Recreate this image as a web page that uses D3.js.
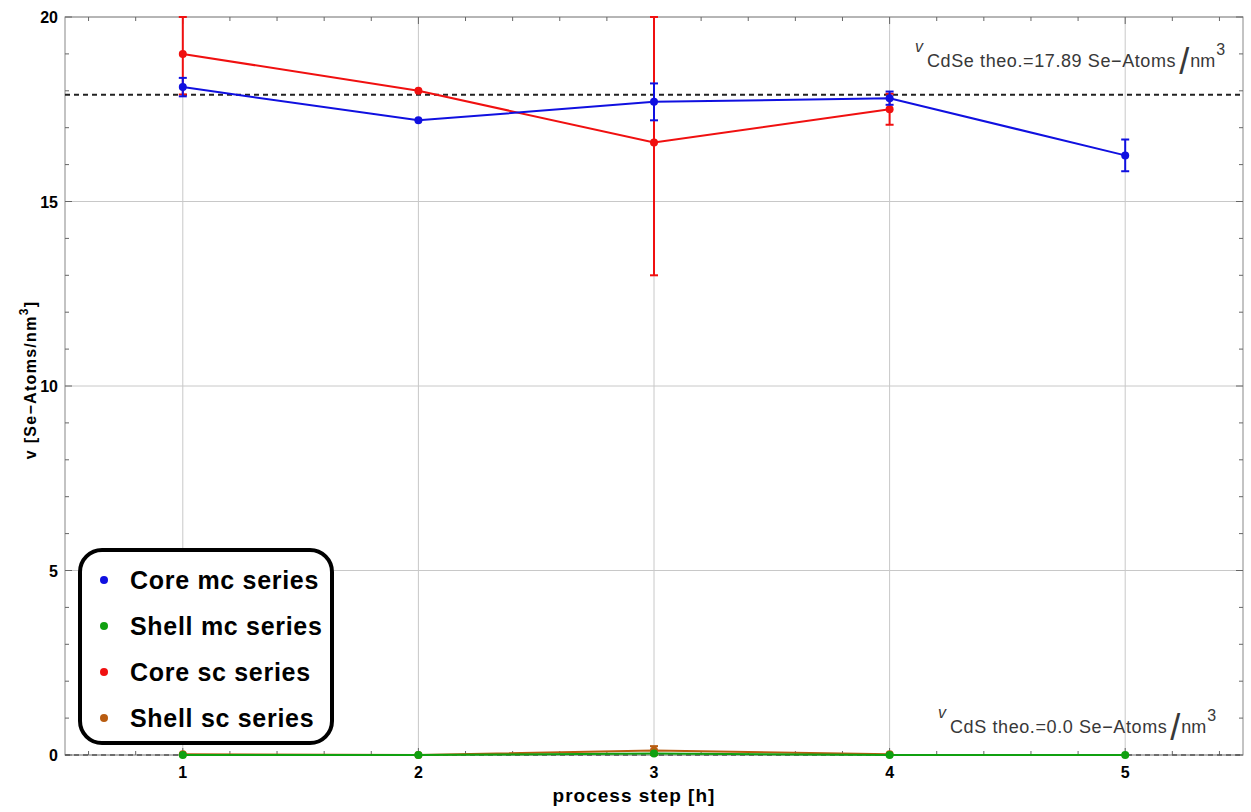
<!DOCTYPE html>
<html lang="en">
<head>
    <meta charset="UTF-8">
    <title>Se density per process step</title>
    <style>
        body { margin: 0; background: #fff; }
        text { font-family: 'Liberation Sans', Arial, sans-serif; fill: #000; }
        .grid line { stroke: #c8c8c8; stroke-width: 1px; }
        .frame { fill: none; stroke: #888; stroke-width: 1px; }
        .tick-label { font-size: 16px; font-weight: bold; }
        .axis-title { font-weight: bold; }
        .note text { fill: #383838; }
    </style>
</head>
<body>
<script src="https://d3js.org/d3.v7.min.js"></script>
<script>

    const width = 1251;
    const height = 812;
    const margin = {left: 65, right: 8, top: 17, bottom: 57};

    // data
    const steps = [1, 2, 3, 4, 5];
    const coreMc = [18.1, 17.2, 17.7, 17.8, 16.25];
    const coreMcErr = [0.25, 0, 0.5, 0.18, 0.43];
    const shellMc = [0.0, 0.0, 0.04, 0.0, 0.0];
    const shellMcErr = [0, 0, 0, 0, 0];
    const coreSc = [19.0, 18.0, 16.6, 17.5];
    const coreScErr = [1.1, 0, 3.6, 0.42];
    const shellSc = [0.02, 0.0, 0.12, 0.02];
    const shellScErr = [0, 0, 0.12, 0];

    const seriesNames = ['Core mc series', 'Shell mc series', 'Core sc series', 'Shell sc series'];
    const seriesColours = ['#1010e0', '#10a010', '#f01010', '#b85c10'];

    const theoCdSe = 17.89;
    const theoCdS = 0.0;

    const xTicks = [1, 2, 3, 4, 5];
    const yTicks = [0, 5, 10, 15, 20];

    const series = [
        {values: coreMc, err: coreMcErr, colour: seriesColours[0]},
        {values: shellMc, err: shellMcErr, colour: seriesColours[1]},
        {values: coreSc, err: coreScErr, colour: seriesColours[2]},
        {values: shellSc, err: shellScErr, colour: seriesColours[3]}
    ];
    // draw order: shell sc under shell mc so the green dots stay visible
    const drawOrder = [3, 1, 2, 0];

    let svg = d3.select('body').append('svg')
        .attr('width', width)
        .attr('height', height);

    const x = d3.scaleLinear().domain([0.5, 5.5]).range([margin.left, width - margin.right]);
    const y = d3.scaleLinear().domain([0, 20]).range([height - margin.bottom, margin.top]);

    // grid
    let grid = svg.append('g').classed('grid', true);
    grid.selectAll('.gx').data(xTicks).enter().append('line')
        .attr('x1', d => x(d)).attr('x2', d => x(d))
        .attr('y1', y(0)).attr('y2', y(20));
    grid.selectAll('.gy').data(yTicks).enter().append('line')
        .attr('x1', x(0.5)).attr('x2', x(5.5))
        .attr('y1', d => y(d)).attr('y2', d => y(d));

    // frame + ticks on all four sides
    svg.append('rect').classed('frame', true)
        .attr('x', x(0.5)).attr('y', y(20))
        .attr('width', x(5.5) - x(0.5)).attr('height', y(0) - y(20));

    let ticks = svg.append('g').style('stroke', '#666').style('stroke-width', '1px');
    const xMinor = d3.range(0.6, 5.45, 0.2).filter(v => Math.abs(v - Math.round(v)) > 0.01);
    const yMinor = d3.range(1, 20, 1).filter(v => v % 5 !== 0);

    [[xTicks, 7], [xMinor, 4]].forEach(function(p) {
        ticks.selectAll(null).data(p[0]).enter().append('line')
            .attr('x1', d => x(d)).attr('x2', d => x(d))
            .attr('y1', y(0)).attr('y2', y(0) - p[1]);
        ticks.selectAll(null).data(p[0]).enter().append('line')
            .attr('x1', d => x(d)).attr('x2', d => x(d))
            .attr('y1', y(20)).attr('y2', y(20) + p[1]);
    });
    [[yTicks, 7], [yMinor, 4]].forEach(function(p) {
        ticks.selectAll(null).data(p[0]).enter().append('line')
            .attr('x1', x(0.5)).attr('x2', x(0.5) + p[1])
            .attr('y1', d => y(d)).attr('y2', d => y(d));
        ticks.selectAll(null).data(p[0]).enter().append('line')
            .attr('x1', x(5.5)).attr('x2', x(5.5) - p[1])
            .attr('y1', d => y(d)).attr('y2', d => y(d));
    });

    // tick labels
    svg.selectAll('.xl').data(xTicks).enter().append('text')
        .classed('tick-label', true)
        .attr('x', d => x(d)).attr('y', y(0) + 23)
        .attr('text-anchor', 'middle')
        .text(d => d);
    svg.selectAll('.yl').data(yTicks).enter().append('text')
        .classed('tick-label', true)
        .attr('x', x(0.5) - 7).attr('y', d => y(d) + 6)
        .attr('text-anchor', 'end')
        .text(d => d);

    // axis titles
    svg.append('text').classed('axis-title', true)
        .attr('x', 634).attr('y', 802)
        .attr('text-anchor', 'middle')
        .style('font-size', '19px')
        .style('letter-spacing', '1px')
        .text('process step [h]');

    let yTitle = svg.append('text').classed('axis-title', true)
        .attr('transform', 'translate(36,' + 380 + ') rotate(-90)')
        .attr('text-anchor', 'middle')
        .style('font-size', '16px')
        .style('letter-spacing', '1.3px');
    yTitle.append('tspan').text('v [Se\u2212Atoms/nm');
    yTitle.append('tspan').attr('dy', -8).style('font-size', '12px').text('3');
    yTitle.append('tspan').attr('dy', 8).text(']');

    // theoretical reference lines
    svg.append('line')
        .attr('x1', x(0.5)).attr('x2', x(5.5))
        .attr('y1', y(theoCdSe)).attr('y2', y(theoCdSe))
        .style('stroke', '#222').style('stroke-width', '2px')
        .style('stroke-dasharray', '5,4');
    svg.append('line')
        .attr('x1', x(0.5)).attr('x2', x(5.5))
        .attr('y1', y(theoCdS)).attr('y2', y(theoCdS))
        .style('stroke', '#555').style('stroke-width', '1.5px')
        .style('stroke-dasharray', '5,4');

    // series lines, error bars, points
    let plot = svg.append('g');
    const clipTop = y(20);

    drawOrder.forEach(function(i) {
        let s = series[i];
        let pts = s.values.map((v, j) => ({x: steps[j], v: v, e: s.err[j]}));
        let colour = s.colour;

        plot.append('path')
            .datum(pts)
            .attr('d', d3.line().x(d => x(d.x)).y(d => y(d.v)))
            .style('fill', 'none')
            .style('stroke', colour)
            .style('stroke-width', '2px');

        let bars = pts.filter(d => d.e > 0);
        plot.selectAll(null).data(bars).enter().append('line')
            .attr('x1', d => x(d.x)).attr('x2', d => x(d.x))
            .attr('y1', d => Math.max(clipTop, y(d.v + d.e)))
            .attr('y2', d => y(d.v - d.e))
            .style('stroke', colour).style('stroke-width', '2px');
        plot.selectAll(null).data(bars).enter().append('line')
            .attr('x1', d => x(d.x) - 4).attr('x2', d => x(d.x) + 4)
            .attr('y1', d => Math.max(clipTop, y(d.v + d.e)))
            .attr('y2', d => Math.max(clipTop, y(d.v + d.e)))
            .style('stroke', colour).style('stroke-width', '2px');
        plot.selectAll(null).data(bars).enter().append('line')
            .attr('x1', d => x(d.x) - 4).attr('x2', d => x(d.x) + 4)
            .attr('y1', d => y(d.v - d.e)).attr('y2', d => y(d.v - d.e))
            .style('stroke', colour).style('stroke-width', '2px');

        plot.selectAll(null).data(pts).enter().append('circle')
            .attr('cx', d => x(d.x)).attr('cy', d => y(d.v))
            .attr('r', 4)
            .style('fill', colour);
    });

    // annotations
    function addNote(xPos, yBase, label, value) {
        let g = svg.append('g').classed('note', true);
        g.append('text').attr('x', xPos).attr('y', yBase - 15)
            .style('font-size', '16px').style('font-style', 'italic').text('v');
        let t = g.append('text').attr('x', xPos + 12).attr('y', yBase)
            .style('font-size', '18px');
        t.append('tspan').style('letter-spacing', '0.6px')
            .text(label + ' theo.=' + value + ' Se\u2212Atoms');
        t.append('tspan').attr('dx', 3).attr('dy', 7)
            .style('font-size', '36px').style('font-weight', '100').text('/');
        t.append('tspan').attr('dx', 1).attr('dy', -7).text('nm');
        t.append('tspan').attr('dx', 1).attr('dy', -12).style('font-size', '16px').text('3');
    }
    addNote(915, 67, 'CdSe', theoCdSe.toFixed(2));
    addNote(938, 733, 'CdS', theoCdS.toFixed(1));

    // legend
    let legend = svg.append('g').attr('transform', 'translate(80,550)');
    legend.append('rect')
        .attr('width', 252).attr('height', 193)
        .attr('rx', 22).attr('ry', 22)
        .style('fill', '#fff').style('stroke', '#000').style('stroke-width', '4px');
    seriesNames.forEach(function(name, i) {
        legend.append('circle')
            .attr('cx', 24).attr('cy', 30 + 46 * i).attr('r', 4)
            .style('fill', seriesColours[i]);
        legend.append('text')
            .attr('x', 50).attr('y', 39 + 46 * i)
            .style('font-size', '25px').style('font-weight', 'bold')
            .style('letter-spacing', '0.7px')
            .text(name);
    });

</script>
</body>
</html>
